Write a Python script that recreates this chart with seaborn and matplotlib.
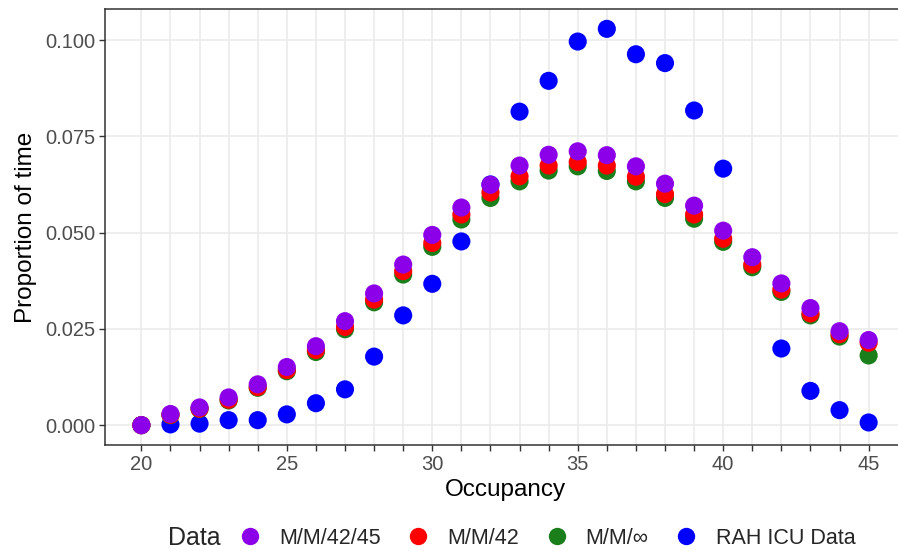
import numpy as np
import pandas as pd
import matplotlib
matplotlib.use("Agg")
import matplotlib.pyplot as plt
from matplotlib.lines import Line2D
import seaborn as sns

occupancy = list(range(20, 46))

mm_42_45 = [0.0000, 0.0029, 0.0046, 0.0072, 0.0106, 0.0151, 0.0205, 0.0270,
            0.0342, 0.0417, 0.0494, 0.0565, 0.0624, 0.0674, 0.0702, 0.0711,
            0.0701, 0.0672, 0.0627, 0.0570, 0.0505, 0.0436, 0.0368, 0.0304,
            0.0244, 0.0221]
mm_42 = [0.0000, 0.0027, 0.0043, 0.0066, 0.0099, 0.0143, 0.0195, 0.0255,
         0.0326, 0.0400, 0.0473, 0.0547, 0.0604, 0.0646, 0.0674, 0.0683,
         0.0674, 0.0645, 0.0600, 0.0547, 0.0484, 0.0417, 0.0352, 0.0290,
         0.0236, 0.0214]
mm_inf = [0.0000, 0.0026, 0.0042, 0.0064, 0.0097, 0.0140, 0.0190, 0.0249,
          0.0319, 0.0391, 0.0463, 0.0534, 0.0590, 0.0633, 0.0661, 0.0672,
          0.0660, 0.0633, 0.0590, 0.0536, 0.0476, 0.0410, 0.0346, 0.0285,
          0.0230, 0.0181]
rah_icu = [0.0000, 0.0002, 0.0004, 0.0013, 0.0013, 0.0028, 0.0057, 0.0093,
           0.0178, 0.0285, 0.0367, 0.0477, 0.0625, 0.0814, 0.0894, 0.0996,
           0.1029, 0.0963, 0.0940, 0.0817, 0.0666, np.nan, 0.0199, 0.0089,
           0.0039, 0.0007]

labels = ["M/M/42/45", "M/M/42", "M/M/\u221e", "RAH ICU Data"]
colors = ["#8B00E8", "#FF0000", "#1A7F1A", "#0000FF"]
series = [mm_42_45, mm_42, mm_inf, rah_icu]

# long table; observed data first so the model series sit on top
frames = []
for lab, vals in reversed(list(zip(labels, series))):
    frames.append(pd.DataFrame({"Occupancy": occupancy, "Proportion": vals, "Data": lab}))
df = pd.concat(frames, ignore_index=True).dropna()

sns.set_theme(style="white")
plt.rcParams["font.family"] = ["Liberation Sans", "DejaVu Sans"]

fig = plt.figure(figsize=(8.98, 5.51), dpi=100)
ax = fig.add_axes([105 / 898, 1 - 445 / 551, 800 / 898, 436 / 551])

sns.scatterplot(data=df, x="Occupancy", y="Proportion", hue="Data",
                hue_order=labels, palette=dict(zip(labels, colors)),
                s=170, linewidth=0, legend=False, ax=ax, zorder=3)

ax.set_xlim(18.75, 46.25)
ax.set_ylim(-0.00515, 0.10805)
ax.set_xticks(occupancy)
ax.set_xticklabels([str(v) if v % 5 == 0 else "" for v in occupancy])
ax.set_yticks([0, 0.025, 0.05, 0.075, 0.1])
ax.set_yticklabels(["0.000", "0.025", "0.050", "0.075", "0.100"])
ax.grid(True, color="#EBEBEB", linewidth=1.2, zorder=0)
ax.set_axisbelow(True)
for sp in ax.spines.values():
    sp.set_color("#333333")
    sp.set_linewidth(1.1)
ax.tick_params(axis="both", which="major", length=4, width=1.0, color="#333333",
               labelsize=14.5, labelcolor="#4D4D4D", pad=3, left=True, bottom=True)
ax.set_xlabel("Occupancy", fontsize=17.5, color="black", labelpad=4)
ax.set_ylabel("Proportion of time", fontsize=17.5, color="black", labelpad=6)

handles = [Line2D([], [], marker="o", linestyle="none", markersize=12.5,
                  markerfacecolor=c, markeredgewidth=0) for c in colors]
fig.text(168 / 898, 1 - 538 / 551, "Data", fontsize=18, va="center", ha="left")
fig.legend(handles, labels, ncol=4, loc="center left",
           bbox_to_anchor=(239 / 898, 1 - 538 / 551), frameon=False,
           fontsize=15.5, handletextpad=0.85, columnspacing=1.25, handlelength=1.0,
           borderpad=0, borderaxespad=0)

fig.savefig("out.png", dpi=100)
